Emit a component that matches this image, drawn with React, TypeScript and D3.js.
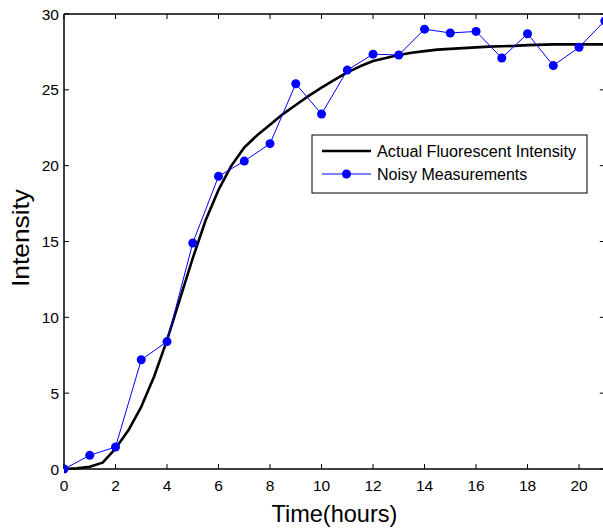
import React from "react";
import * as d3 from "d3";

const noisyX = [0, 1, 2, 3, 4, 5, 6, 7, 8, 9, 10, 11, 12, 13, 14, 15, 16, 17, 18, 19, 20, 21];
const noisyY = [0, 0.9, 1.45, 7.2, 8.4, 14.9, 19.3, 20.3, 21.45, 25.4, 23.4, 26.3, 27.35, 27.3, 29.0, 28.75, 28.85, 27.1, 28.7, 26.6, 27.8, 29.55];

const actualX = [0, 0.5, 1, 1.5, 2, 2.5, 3, 3.5, 4, 4.5, 5, 5.5, 6, 6.5, 7, 7.5, 8, 8.5, 9, 9.5, 10, 10.5, 11, 11.5, 12, 12.5, 13, 13.5, 14, 14.5, 15, 15.5, 16, 16.5, 17, 17.5, 18, 19, 20, 21];
const actualY = [0, 0.05, 0.15, 0.42, 1.35, 2.55, 4.1, 6.1, 8.5, 11.2, 13.9, 16.4, 18.4, 20.0, 21.2, 22.0, 22.7, 23.4, 24.0, 24.6, 25.15, 25.65, 26.15, 26.55, 26.9, 27.1, 27.3, 27.45, 27.55, 27.65, 27.7, 27.75, 27.8, 27.85, 27.87, 27.9, 27.95, 28.0, 28.0, 28.0];

const xTicks = [0, 2, 4, 6, 8, 10, 12, 14, 16, 18, 20];
const yTicks = [0, 5, 10, 15, 20, 25, 30];

const legendLabels = ["Actual Fluorescent Intensity", "Noisy Measurements"];

export default function App() {
  const W = 603, H = 529;
  const left = 64, top = 14, bottom = 469, right = 604.8;
  const x = d3.scaleLinear().domain([0, 21]).range([left, right]);
  const y = d3.scaleLinear().domain([0, 30]).range([bottom, top]);
  const font = "'Liberation Sans', Arial, sans-serif";

  const actualLine = d3.line<number>().x((d, i) => x(actualX[i])).y((d) => y(d))(actualY) || "";
  const noisyLine = d3.line<number>().x((d, i) => x(noisyX[i])).y((d) => y(d))(noisyY) || "";

  return (
    <svg width={W} height={H} style={{ position: "absolute", left: 0, top: 0, background: "#fff" }}>
      <rect x={0} y={0} width={W} height={H} fill="#fff" />
      <defs>
        <clipPath id="plotclip">
          <rect x={left} y={top - 6} width={right - left + 6} height={bottom - top + 12} />
        </clipPath>
      </defs>
      {xTicks.map((t) => (
        <g key={"xt" + t}>
          <line x1={x(t)} x2={x(t)} y1={bottom} y2={bottom - 5} stroke="#000" strokeWidth={1} />
          <line x1={x(t)} x2={x(t)} y1={top} y2={top + 5} stroke="#000" strokeWidth={1} />
          <text x={x(t)} y={bottom + 22} textAnchor="middle" fontFamily={font} fontSize={15.5} fill="#000">{t}</text>
        </g>
      ))}
      {yTicks.map((t) => (
        <g key={"yt" + t}>
          <line x1={left} x2={left + 5} y1={y(t)} y2={y(t)} stroke="#000" strokeWidth={1} />
          <line x1={right} x2={right - 5} y1={y(t)} y2={y(t)} stroke="#000" strokeWidth={1} />
          <text x={left - 5} y={y(t) + 5.5} textAnchor="end" fontFamily={font} fontSize={15.5} fill="#000">{t}</text>
        </g>
      ))}
      <line x1={left} x2={right} y1={top} y2={top} stroke="#000" strokeWidth={1.5} />
      <line x1={left} x2={right} y1={bottom} y2={bottom} stroke="#000" strokeWidth={1.5} />
      <line x1={left} x2={left} y1={top} y2={bottom} stroke="#000" strokeWidth={1.5} />
      <line x1={right} x2={right} y1={top} y2={bottom} stroke="#000" strokeWidth={1.5} />

      <g clipPath="url(#plotclip)">
        <path d={actualLine} fill="none" stroke="#000" strokeWidth={2.6} strokeLinejoin="round" />
        <path d={noisyLine} fill="none" stroke="#0000ff" strokeWidth={1} />
        {noisyY.map((v, i) => (
          <circle key={"p" + i} cx={x(noisyX[i])} cy={y(v)} r={4.5} fill="#0000ff" />
        ))}
      </g>

      <text x={(left + right) / 2} y={522} textAnchor="middle" fontFamily={font} fontSize={24} fill="#000" textLength={126} lengthAdjust="spacingAndGlyphs">Time(hours)</text>
      <text transform={`translate(28.5,238) rotate(-90)`} textAnchor="middle" fontFamily={font} fontSize={24} fill="#000" textLength={98} lengthAdjust="spacingAndGlyphs">Intensity</text>

      <g>
        <rect x={312} y={135} width={275} height={58} fill="#fff" stroke="#000" strokeWidth={1} />
        <line x1={322} x2={371} y1={151} y2={151} stroke="#000" strokeWidth={2.6} />
        <text x={377} y={157} fontFamily={font} fontSize={16} fill="#000" textLength={199} lengthAdjust="spacingAndGlyphs">{legendLabels[0]}</text>
        <line x1={322} x2={371} y1={174} y2={174} stroke="#0000ff" strokeWidth={1} />
        <circle cx={346.5} cy={174} r={4.5} fill="#0000ff" />
        <text x={377} y={180} fontFamily={font} fontSize={16} fill="#000">{legendLabels[1]}</text>
      </g>
    </svg>
  );
}
